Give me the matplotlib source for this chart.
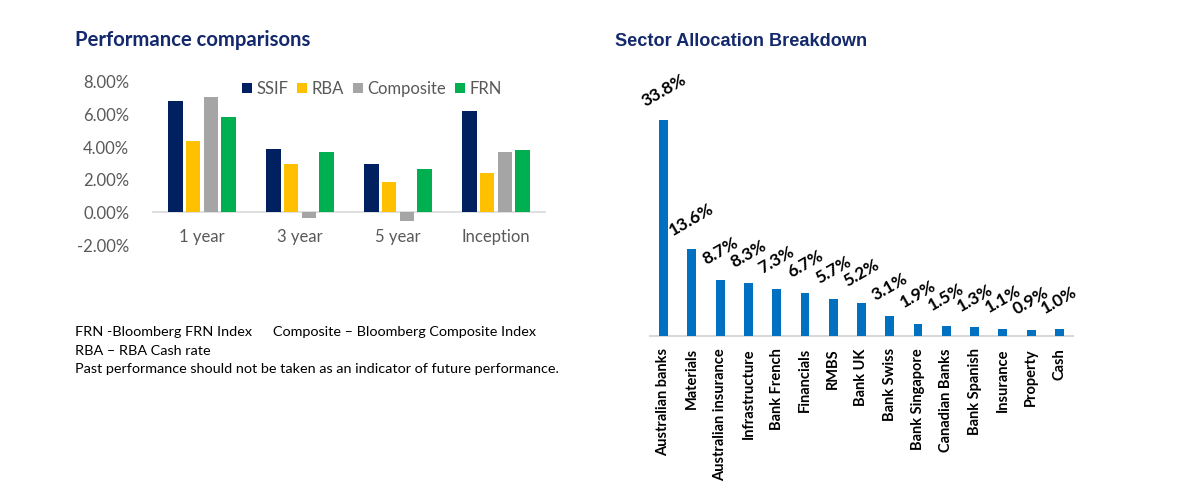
import matplotlib
matplotlib.use("Agg")
import matplotlib.pyplot as plt
import numpy as np
from matplotlib.ticker import FuncFormatter

# performance data (%)
periods = ["1 year", "3 year", "5 year", "Inception"]
series_names = ["SSIF", "RBA", "Composite", "FRN"]
ssif = [6.83, 3.87, 2.95, 6.23]
rba = [4.40, 2.95, 1.88, 2.44]
composite = [7.08, -0.35, -0.51, 3.68]
frn = [5.84, 3.70, 2.66, 3.80]
perf_colors = ["#002060", "#FFC000", "#A5A5A5", "#00B050"]

# sector allocation (%)
sectors = ["Australian banks", "Materials", "Australian insurance", "Infrastructure",
           "Bank French", "Financials", "RMBS", "Bank UK", "Bank Swiss",
           "Bank Singapore", "Canadian Banks", "Bank Spanish", "Insurance",
           "Property", "Cash"]
weights = [33.8, 13.6, 8.7, 8.3, 7.3, 6.7, 5.7, 5.2, 3.1, 1.9, 1.5, 1.3, 1.1, 0.9, 1.0]

footnotes = ["FRN -Bloomberg FRN Index", "RBA \u2013 RBA Cash rate",
             "Past performance should not be taken as an indicator of future performance."]
footnote_right = "Composite \u2013 Bloomberg Composite Index"

navy = "#13296b"
grey_txt = "#595959"

fig = plt.figure(figsize=(12, 5), dpi=100)
W, H = 1200, 500

def px_axes(l, t, r, b):
    return fig.add_axes([l / W, 1 - b / H, (r - l) / W, (b - t) / H])

# ---- left: performance comparisons
ax1 = px_axes(153, 82, 545, 245)
x = np.arange(len(periods))
step, width = 0.18, 0.145
for i, (vals, c, name) in enumerate(zip([ssif, rba, composite, frn], perf_colors, series_names)):
    ax1.bar(x + (i - 1.5) * step, vals, width, color=c, label=name, zorder=3)
ax1.set_xlim(-0.5, 3.5)
ax1.set_ylim(-2, 8)
ax1.set_yticks([-2, 0, 2, 4, 6, 8])
ax1.yaxis.set_major_formatter(FuncFormatter(lambda v, p: f"{v:.2f}%"))
ax1.set_xticks(x)
ax1.set_xticklabels(periods)
for s in ["top", "right", "left"]:
    ax1.spines[s].set_visible(False)
# category axis sits on the zero line, like Excel
ax1.spines["bottom"].set_position(("data", 0))
ax1.spines["bottom"].set_color("#D9D9D9")
ax1.spines["bottom"].set_linewidth(1.2)
ax1.tick_params(length=0, labelsize=12, colors=grey_txt)
ax1.tick_params(axis="y", pad=17)
ax1.tick_params(axis="x", pad=12)
for lab in ax1.get_xticklabels() + ax1.get_yticklabels():
    lab.set_family("Lato")
leg = ax1.legend(loc="center left", bbox_to_anchor=(242 / W, 1 - 89 / H),
                 bbox_transform=fig.transFigure, ncol=4, frameon=False,
                 handlelength=0.6, handleheight=0.6, handletextpad=0.25,
                 columnspacing=0.55, borderaxespad=0, borderpad=0,
                 prop={"family": "Lato", "size": 12})
for t in leg.get_texts():
    t.set_color(grey_txt)

fig.text(75 / W, 1 - 40 / H, "Performance comparisons", family="Lato",
         weight="bold", size=14.6, color=navy, va="center", ha="left")

fig.text(75 / W, 1 - 332 / H, footnotes[0], family="Lato", size=10.4, va="center")
fig.text(273 / W, 1 - 332 / H, footnote_right, family="Lato", size=10.4, va="center")
fig.text(75 / W, 1 - 351 / H, footnotes[1], family="Lato", size=10.4, va="center")
fig.text(75 / W, 1 - 369 / H, footnotes[2], family="Lato", size=10.4, va="center")

# ---- right: sector allocation
ax2 = px_axes(650, 80.5, 1073, 335.7)
xs = np.arange(len(sectors))
ax2.bar(xs, weights, 0.31, color="#0070C0", zorder=3)
ax2.set_xlim(-0.48, len(sectors) - 0.52)
ax2.set_ylim(0, 40)
for s in ["top", "right", "left"]:
    ax2.spines[s].set_visible(False)
ax2.spines["bottom"].set_color("#D9D9D9")
ax2.spines["bottom"].set_linewidth(1.5)
ax2.set_yticks([])
ax2.set_xticks(xs)
ax2.set_xticklabels(sectors, rotation=90, family="Lato", weight="bold", size=10.5)
ax2.tick_params(axis="x", length=0, pad=9)
for xi, v in zip(xs, weights):
    ax2.annotate(f"{v:.1f}%", (xi, v), xytext=(0, 21), textcoords="offset points",
                 ha="center", va="center", rotation=30, family="Lato",
                 weight="bold", size=12.5)

fig.text(615 / W, 1 - 41 / H, "Sector Allocation Breakdown", family="Liberation Sans",
         weight="bold", size=13.1, color=navy, va="center", ha="left")

fig.savefig("out.png", dpi=100)
